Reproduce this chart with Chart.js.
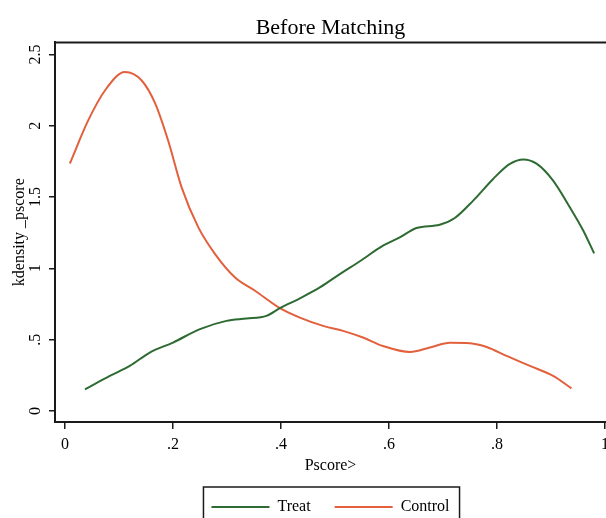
<!DOCTYPE html>
<html lang="en">
<head>
  <meta charset="UTF-8">
  <title>Before Matching</title>
  <style>
    body {
      margin: 0;
      padding: 0;
      background-color: #ffffff;
    }
  </style>
</head>
<body>
  <canvas id="kdensChart" width="606" height="518"></canvas>

  <script src="https://cdn.jsdelivr.net/npm/chart.js"></script>

  <script>
    // kdensity of _pscore
    const treatX = [0.037, 0.083, 0.12, 0.157, 0.2, 0.25, 0.299, 0.336, 0.373, 0.398, 0.435, 0.472, 0.509, 0.546,
                    0.589, 0.62, 0.651, 0.694, 0.722, 0.756, 0.793, 0.824, 0.849, 0.874, 0.904, 0.935, 0.96, 0.98];
    const treatY = [0.152, 0.246, 0.316, 0.41, 0.48, 0.574, 0.632, 0.648, 0.667, 0.721, 0.79, 0.866, 0.96, 1.05,
                    1.159, 1.217, 1.283, 1.306, 1.353, 1.475, 1.627, 1.732, 1.763, 1.732, 1.615, 1.428, 1.264, 1.105];

    const controlX = [0.009, 0.043, 0.074, 0.111, 0.142, 0.167, 0.191, 0.216, 0.247, 0.278, 0.315, 0.352, 0.398, 0.435,
                      0.478, 0.515, 0.552, 0.589, 0.639, 0.676, 0.713, 0.75, 0.781, 0.818, 0.861, 0.904, 0.938];
    const controlY = [1.735, 2.037, 2.247, 2.376, 2.317, 2.156, 1.896, 1.568, 1.287, 1.10, 0.936, 0.843, 0.721, 0.655,
                      0.597, 0.562, 0.515, 0.456, 0.414, 0.445, 0.478, 0.475, 0.449, 0.386, 0.316, 0.246, 0.159];

    const xTicks = [0, 0.2, 0.4, 0.6, 0.8, 1];
    const yTicks = [0, 0.5, 1, 1.5, 2, 2.5];

    const serif = '"Liberation Serif", "DejaVu Serif", serif';
    const axisColor = '#1a1a1a';

    // Stata style labels: .2 instead of 0.2
    function stataFmt(v) {
      return String(Math.round(v * 100) / 100).replace(/^0\./, '.');
    }

    function toPoints(xs, ys) {
      return xs.map((x, i) => ({ x: x, y: ys[i] }));
    }

    // top frame line and the box around the legend
    const framePlugin = {
      id: 'frame',
      afterDraw(chart) {
        const ctx = chart.ctx;
        const area = chart.chartArea;
        ctx.save();
        ctx.strokeStyle = axisColor;
        ctx.lineWidth = 2;
        ctx.beginPath();
        ctx.moveTo(area.left - 1, area.top);
        ctx.lineTo(area.right, area.top);
        ctx.stroke();

        const boxes = chart.legend.legendHitBoxes;
        if (boxes && boxes.length) {
          const left = Math.min(...boxes.map(b => b.left)) - 8;
          const right = Math.max(...boxes.map(b => b.left + b.width)) + 10;
          const mid = boxes[0].top + boxes[0].height / 2;
          ctx.lineWidth = 1.5;
          ctx.strokeRect(left, mid - 20, right - left, 60);
        }
        ctx.restore();
      }
    };

    const ctx = document.getElementById('kdensChart').getContext('2d');

    new Chart(ctx, {
      type: 'line',
      data: {
        datasets: [
          {
            label: 'Treat',
            data: toPoints(treatX, treatY),
            borderColor: '#2e6b33',
            backgroundColor: '#2e6b33',
            borderWidth: 2,
            pointRadius: 0,
            cubicInterpolationMode: 'monotone',
            fill: false
          },
          {
            label: 'Control',
            data: toPoints(controlX, controlY),
            borderColor: '#e2603c',
            backgroundColor: '#e2603c',
            borderWidth: 2,
            pointRadius: 0,
            cubicInterpolationMode: 'monotone',
            fill: false
          }
        ]
      },
      options: {
        responsive: false,
        animation: false,
        // legend box runs off the bottom edge, like the cropped original
        layout: { padding: { left: 0, right: 0, top: 0, bottom: -7 } },
        plugins: {
          title: {
            display: true,
            text: 'Before Matching',
            fullSize: false,
            color: '#000',
            font: { family: serif, size: 22, weight: 'normal' },
            padding: { top: 15, bottom: 1 }
          },
          legend: {
            position: 'bottom',
            fullSize: false,
            labels: {
              color: '#000',
              font: { family: serif, size: 16 },
              usePointStyle: true,
              pointStyle: 'line',
              pointStyleWidth: 58,
              padding: 24
            }
          },
          tooltip: { enabled: false }
        },
        scales: {
          x: {
            type: 'linear',
            min: -0.0185,
            max: 1.002,
            afterBuildTicks: scale => { scale.ticks = xTicks.map(v => ({ value: v })); },
            afterFit: scale => {
              scale.height = 53;
              scale.paddingLeft = 0;
              scale.paddingRight = 0;
            },
            ticks: {
              color: '#000',
              font: { family: serif, size: 16 },
              padding: 6,
              maxRotation: 0,
              callback: v => stataFmt(v)
            },
            grid: {
              drawOnChartArea: false,
              drawTicks: true,
              tickLength: 7,
              tickColor: axisColor,
              lineWidth: 1.5
            },
            border: { display: true, color: axisColor, width: 2 },
            title: {
              display: true,
              text: 'Pscore>',
              color: '#000',
              font: { family: serif, size: 16 },
              padding: { top: 2, bottom: 0 }
            }
          },
          y: {
            min: -0.077,
            max: 2.584,
            afterBuildTicks: scale => { scale.ticks = yTicks.map(v => ({ value: v })); },
            afterFit: scale => {
              scale.width = 55;
              scale.paddingTop = 0;
              scale.paddingBottom = 0;
            },
            ticks: {
              color: '#000',
              font: { family: serif, size: 16 },
              minRotation: 90,
              maxRotation: 90,
              crossAlign: 'center',
              padding: 3,
              callback: v => stataFmt(v)
            },
            grid: {
              drawOnChartArea: false,
              drawTicks: true,
              tickLength: 6,
              tickColor: axisColor,
              lineWidth: 1.5
            },
            border: { display: true, color: axisColor, width: 2 },
            title: {
              display: true,
              text: 'kdensity _pscore',
              color: '#000',
              font: { family: serif, size: 16 },
              padding: { top: 10, bottom: 0 }
            }
          }
        }
      },
      plugins: [framePlugin]
    });
  </script>
</body>
</html>
